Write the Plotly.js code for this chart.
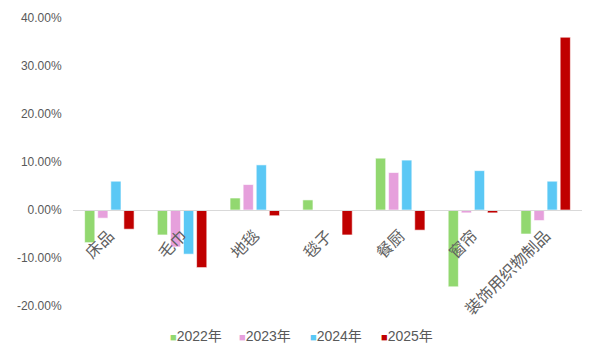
<!DOCTYPE html>
<html>
<head>
<meta charset="utf-8">
<script src="https://cdn.plot.ly/plotly-3.0.1.min.js"></script>
<style>html,body{margin:0;padding:0;background:#fff;}#chart{width:600px;height:360px;}</style>
</head>
<body>
<div id="chart"></div>
<script>
const categories = ["床品", "毛巾", "地毯", "毯子", "餐厨", "窗帘", "装饰用织物制品"];
const seriesNames = ["2022年", "2023年", "2024年", "2025年"];
const v2022 = [-6.8, -5.2, 2.5, 2.1, 10.8, -16.0, -5.0];
const v2023 = [-1.7, -7.7, 5.3, null, 7.8, -0.6, -2.2];
const v2024 = [6.0, -9.2, 9.4, null, 10.4, 8.2, 6.0];
const v2025 = [-4.0, -12.0, -1.2, -5.2, -4.2, -0.6, 36.0];
const colors = ["#92D870", "#E6A0DC", "#5BC8F5", "#C00000"];
const yTicks = [-20, -10, 0, 10, 20, 30, 40];

const allValues = [v2022, v2023, v2024, v2025];
const traces = allValues.map((vals, i) => ({
  type: "bar",
  name: seriesNames[i],
  x: categories,
  y: vals,
  marker: {color: colors[i], line: {color: "rgba(255,255,255,0.6)", width: 1}},
  showlegend: false
}));

const W = 600, ML = 73, MR = 18;
const plotW = W - ML - MR;
const legendPx = [168, 237, 308, 379];
const legendAnn = seriesNames.map((n, i) => ({
  xref: "paper", yref: "paper",
  x: (legendPx[i] - ML) / plotW, y: -0.105,
  xanchor: "left", yanchor: "middle",
  showarrow: false,
  text: "<span style='color:" + colors[i] + ";font-size:11px'>■</span>" + n,
  font: {size: 14, color: "#595959"}
}));

const yMin = -20, yMax = 40;
const layout = {
  width: W, height: 360,
  margin: {l: ML, r: MR, t: 18, b: 54},
  paper_bgcolor: "#fff", plot_bgcolor: "#fff",
  font: {family: "Arial, 'Liberation Sans', 'Noto Sans CJK SC', sans-serif", color: "#595959"},
  barmode: "group",
  bargap: 0.28,
  bargroupgap: 0.22,
  showlegend: false,
  annotations: legendAnn,
  xaxis: {
    type: "category",
    anchor: "free",
    position: (0 - yMin) / (yMax - yMin),
    automargin: false,
    showline: true, linecolor: "#D9D9D9", linewidth: 1,
    showgrid: false, zeroline: false,
    ticks: "", tickangle: -45,
    ticklabelstandoff: 9,
    tickfont: {size: 16, color: "#606060", family: "'Noto Sans CJK SC', sans-serif"}
  },
  yaxis: {
    range: [yMin, yMax],
    automargin: false,
    tickvals: yTicks,
    ticktext: yTicks.map(v => v.toFixed(2) + "%"),
    showgrid: false, zeroline: false, showline: false,
    ticks: "outside", ticklen: 8, tickcolor: "rgba(0,0,0,0)",
    tickfont: {size: 12, color: "#595959"}
  }
};

Plotly.newPlot("chart", traces, layout, {displayModeBar: false, staticPlot: true});
</script>
</body>
</html>
